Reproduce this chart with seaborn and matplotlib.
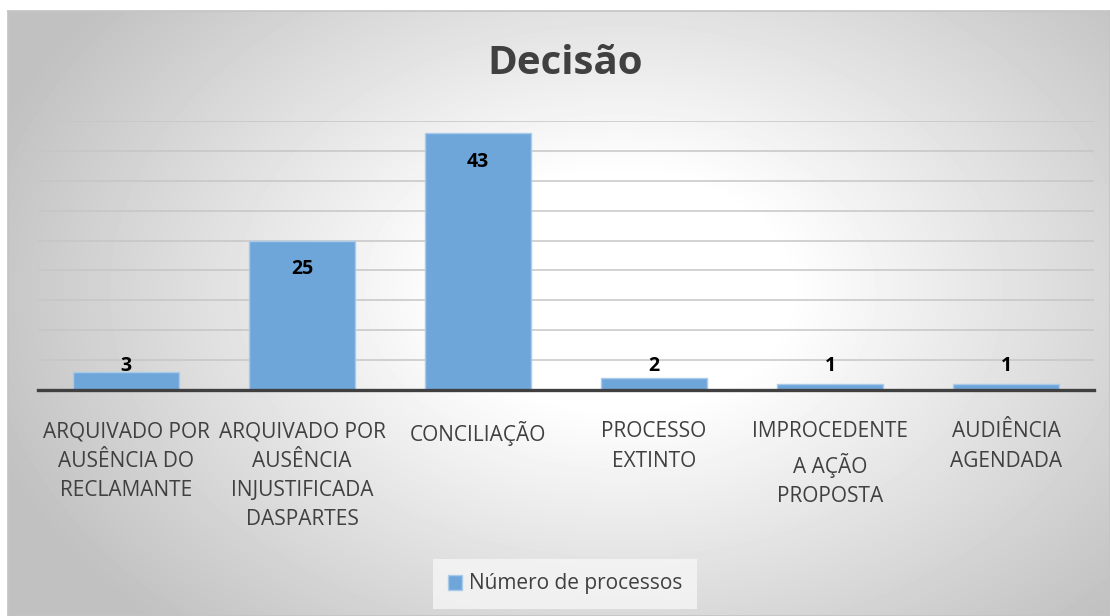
import numpy as np
import pandas as pd
import matplotlib
matplotlib.use("Agg")
import matplotlib.pyplot as plt
import seaborn as sns
from matplotlib.patches import Patch

sns.set_style("white")
plt.rcParams['font.family'] = ['Open Sans', 'DejaVu Sans']

# Chart data
categories = [
    "ARQUIVADO POR\nAUSÊNCIA DO\nRECLAMANTE",
    "ARQUIVADO POR\nAUSÊNCIA\nINJUSTIFICADA\nDASPARTES",
    "CONCILIAÇÃO",
    "PROCESSO\nEXTINTO",
    "IMPROCEDENTE\nA AÇÃO\nPROPOSTA",
    "AUDIÊNCIA\nAGENDADA",
]
values = [3, 25, 43, 2, 1, 1]
series_name = "Número de processos"
title = "Decisão"

df = pd.DataFrame({"Decisão": categories, "Processos": values})

W, H = 1110, 616
fig = plt.figure(figsize=(W / 100, H / 100), dpi=100)
fig.patch.set_facecolor("white")

# Radial gradient background of the chart area
bg = fig.add_axes([8 / W, 0, 1 - 8 / W, 1 - 11 / H])
gx, gy = np.meshgrid(np.arange(W - 8), np.arange(H - 11))
d = np.sqrt(((gx - 612) / 620) ** 2 + ((gy - 280) / 430) ** 2)
shade = 255 - 62 * np.clip((d - 0.27) / 0.8, 0, 1)
bg.imshow(shade, cmap="gray", vmin=0, vmax=255, aspect="auto", interpolation="bilinear")
bg.set_xticks([])
bg.set_yticks([])
for s in bg.spines.values():
    s.set_color("#c4c4c4")
    s.set_linewidth(1.2)

ax = fig.add_axes([38 / W, 1 - 390 / H, 1056 / W, 269 / H])
ax.patch.set_alpha(0)

bar_color = "#6fa6da"
sns.barplot(data=df, x="Decisão", y="Processos", color=bar_color, width=0.6,
            edgecolor="#a9cbea", linewidth=1, saturation=1, ax=ax, zorder=3)

ax.set_ylim(0, 45)
ax.set_xlim(-0.5, len(categories) - 0.5)
ax.set_yticks(np.arange(5, 46, 5))
ax.yaxis.grid(True, color="#c6c6c6", linewidth=1.1, zorder=0)
ax.set_axisbelow(True)
ax.tick_params(axis="y", left=False, labelleft=False)
ax.tick_params(axis="x", bottom=False, pad=19, labelsize=15, labelcolor="#404040")
for lbl in ax.get_xticklabels():
    lbl.set_multialignment("center")
    lbl.set_linespacing(1.52)
ax.set_xlabel("")
ax.set_ylabel("")
for side in ["top", "right", "left"]:
    ax.spines[side].set_visible(False)
ax.spines["bottom"].set_color("#404040")
ax.spines["bottom"].set_linewidth(2.4)
ax.spines["bottom"].set_zorder(4)

# Data labels
for i, v in enumerate(values):
    ax.text(i, max(v - 4.8, 4.0), str(v), ha="center", va="center",
            fontsize=14, fontweight="bold", color="black", zorder=5)

fig.text(565 / W, 1 - 63 / H, title, ha="center", va="center",
         fontsize=29, fontweight="bold", color="#404040")

handle = Patch(facecolor=bar_color, edgecolor="#a9cbea")
leg = fig.legend([handle], [series_name], loc="center", bbox_to_anchor=(565 / W, 1 - 584 / H),
                 frameon=True, fontsize=15, handlelength=0.7, handleheight=0.7,
                 handletextpad=0.3, borderpad=0.7, borderaxespad=0)
leg.get_frame().set_facecolor("#f6f6f6")
leg.get_frame().set_edgecolor("none")
leg.get_frame().set_boxstyle("square", pad=0)
for t in leg.get_texts():
    t.set_color("#404040")

fig.savefig("out.png", dpi=100)
